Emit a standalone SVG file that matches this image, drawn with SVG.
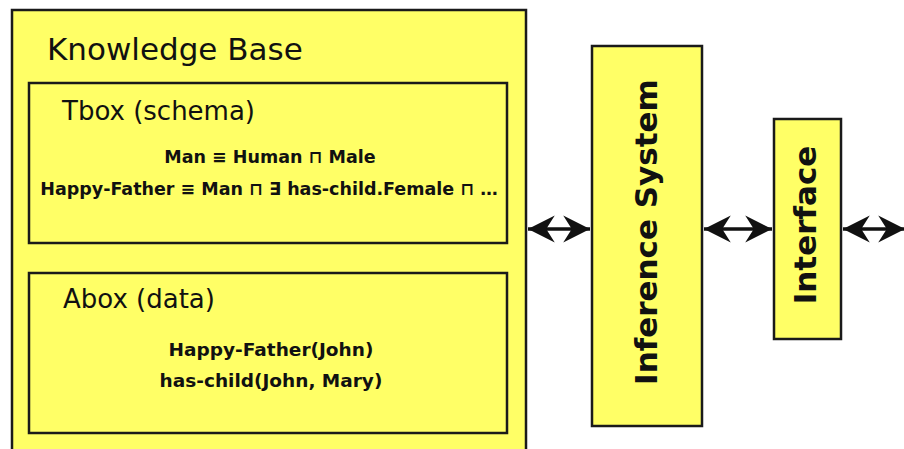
<svg xmlns="http://www.w3.org/2000/svg" width="904" height="449" viewBox="0 0 904 449">
<defs>
<style>
.box{fill:#FFFF66;stroke:#1a1a1a;stroke-width:2.5}
.title{font-family:"DejaVu Sans",Verdana,sans-serif;fill:#111}
.f{font-family:"DejaVu Sans",Verdana,sans-serif;font-weight:bold;font-size:17.5px;fill:#111;text-anchor:middle}
.f2{font-size:18.5px}
.v{font-family:"DejaVu Sans",Verdana,sans-serif;font-weight:bold;font-size:31px;fill:#111;text-anchor:middle}
.conn{stroke:#111;stroke-width:3.5;fill:none}
</style>
<marker id="ah" markerUnits="userSpaceOnUse" markerWidth="30" markerHeight="30" viewBox="-26 -14 28 28" refX="0" refY="0" orient="auto-start-reverse">
<path d="M0,0 L-25,-12.5 L-17,0 L-25,12.5 Z" fill="#111"/>
</marker>
</defs>
<rect width="904" height="449" fill="#ffffff"/>
<g id="knowledge-base">
<rect class="box" x="12" y="10" width="514" height="460"/>
<text class="title" x="47" y="60" font-size="31">Knowledge Base</text>
</g>
<g id="tbox">
<rect class="box" x="29" y="83" width="478" height="160"/>
<text class="title" x="62" y="120" font-size="26">Tbox (schema)</text>
<text class="f" x="270" y="163">Man ≡ Human ⊓ Male</text>
<text class="f" x="269" y="195">Happy-Father ≡ Man ⊓ ∃ has-child.Female ⊓ …</text>
</g>
<g id="abox">
<rect class="box" x="29" y="273" width="478" height="160"/>
<text class="title" x="63" y="308" font-size="26">Abox (data)</text>
<text class="f f2" x="271" y="356">Happy-Father(John)</text>
<text class="f f2" x="271" y="387">has-child(John, Mary)</text>
</g>
<g id="inference-system">
<rect class="box" x="592" y="46" width="110" height="380"/>
<text class="v" transform="translate(657,232) rotate(-90)">Inference System</text>
</g>
<g id="interface">
<rect class="box" x="774" y="119" width="67" height="220"/>
<text class="v" transform="translate(816,225) rotate(-90)">Interface</text>
</g>
<g id="connectors">
<line class="conn" x1="528" y1="229" x2="590" y2="229" marker-start="url(#ah)" marker-end="url(#ah)"/>
<line class="conn" x1="704" y1="229" x2="772" y2="229" marker-start="url(#ah)" marker-end="url(#ah)"/>
<line class="conn" x1="843" y1="229" x2="905" y2="229" marker-start="url(#ah)" marker-end="url(#ah)"/>
</g>
</svg>
